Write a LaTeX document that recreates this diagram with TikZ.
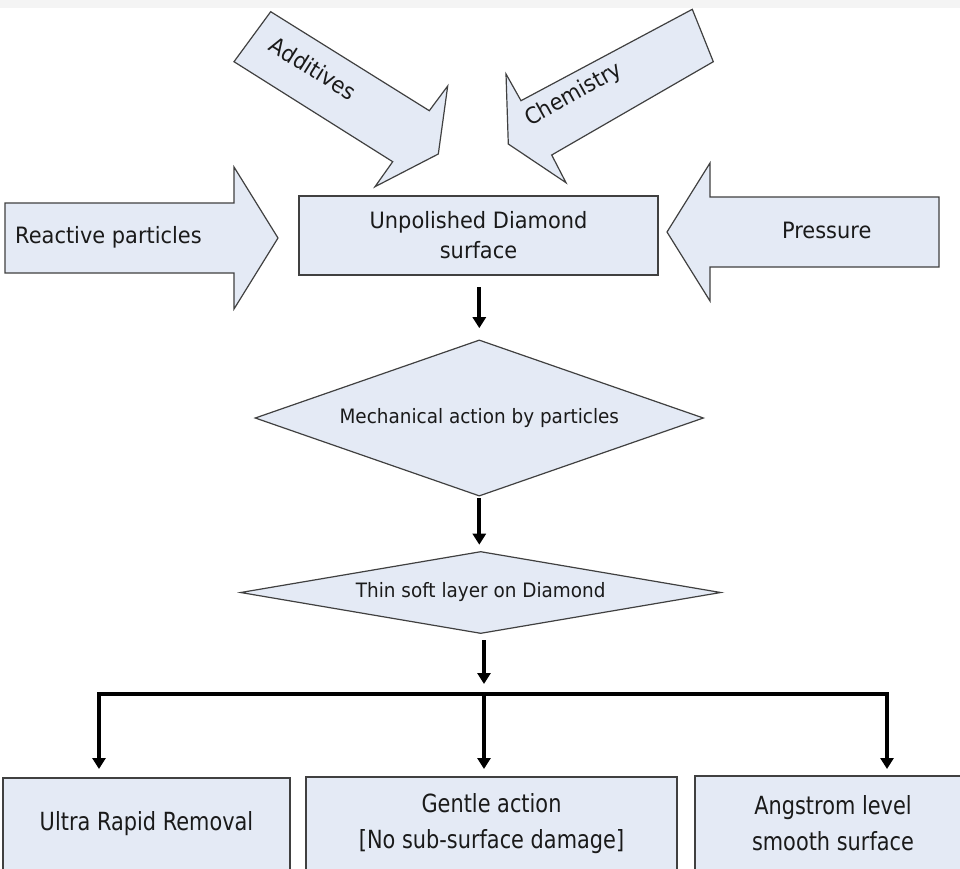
\documentclass[tikz,border=0pt]{standalone}
\usepackage{fontspec}
\setmainfont{DejaVu Sans}[FakeStretch=0.93]
\newfontfamily\narrowf{DejaVu Sans}[FakeStretch=0.835]
\usetikzlibrary{arrows.meta,shapes.geometric}
\definecolor{boxfill}{HTML}{E4EAF5}
\definecolor{boxline}{HTML}{404040}
\definecolor{band}{HTML}{F4F4F4}
\definecolor{ink}{HTML}{1A1A1A}
\begin{document}
\begin{tikzpicture}[x=1pt,y=1pt,
  shapebox/.style={draw=boxline, fill=boxfill, line width=1.2pt},
  rectbox/.style={shapebox, rectangle, inner sep=0pt, outer sep=0pt, align=center, text=ink},
  diabox/.style={shapebox, diamond, inner sep=0pt, outer sep=0pt, text=ink, font=\fontsize{19.8}{24}\selectfont},
  blockarrow/.style={shapebox, line join=miter},
  lbl/.style={text=ink, inner sep=0pt, font=\fontsize{22.5}{30}\selectfont},
  bottomfont/.style={font=\narrowf\fontsize{25}{36}\selectfont},
  conn/.style={line width=4pt, -{Triangle[width=13pt,length=11pt]}},
  bus/.style={line width=4pt, line cap=rect}]
\useasboundingbox (0,0) rectangle (960,-868);
\clip (0,0) rectangle (960,-868);
\fill[white] (0,0) rectangle (960,-868);
\fill[band] (0,0) rectangle (960,-8);

% block arrows
\draw[blockarrow] (5,-203) -- (234,-203) -- (234,-167) -- (278,-238) -- (234,-309) -- (234,-273) -- (5,-273) -- cycle;
\draw[blockarrow] (939,-197) -- (710,-197) -- (710,-163) -- (667,-232) -- (710,-301) -- (710,-267) -- (939,-267) -- cycle;
\draw[blockarrow] (270.7,-11.7) -- (429.3,-110.7) -- (447.7,-86) -- (438.3,-154) -- (375,-186.7) -- (392.7,-161.7) -- (234,-61.7) -- cycle;
\draw[blockarrow] (692.3,-9.3) -- (521,-100.7) -- (506,-74) -- (508.3,-144) -- (566,-182.7) -- (551.7,-155) -- (713.3,-61.7) -- cycle;

\node[lbl, anchor=base west] (reac) at (15,-243) {Reactive particles};
\node[lbl, anchor=base] (pres) at (826.7,-238) {Pressure};
\node[lbl, rotate=-32] (addi) at (313.3,-68.3) {Additives};
\node[lbl, rotate=29] (chem) at (574,-95) {Chemistry};

% main flow
\node[rectbox, minimum width=359pt, minimum height=79pt, font=\fontsize{22.5}{30}\selectfont] (main) at (478.5,-235.5) {Unpolished Diamond\\surface};
\node[diabox, aspect=2.877, minimum width=448pt, minimum height=155.7pt] (mech) at (479.3,-418) {Mechanical action by particles};
\node[diabox, aspect=5.88, minimum width=480pt, minimum height=81.6pt] (thin) at (480.7,-592.5) {Thin soft layer on Diamond};

\node[rectbox, bottomfont, minimum width=287pt, minimum height=92pt, anchor=north west] (ultra) at (3,-778) {Ultra Rapid Removal};
\node[rectbox, bottomfont, minimum width=371pt, minimum height=93pt, anchor=north west] (gentle) at (306,-777) {Gentle action\\{[No sub-surface damage]}};
\node[rectbox, bottomfont, minimum width=276pt, minimum height=94pt, anchor=north west] (angs) at (695,-776) {Angstrom level\\smooth surface};

\coordinate (bl) at (99,-694);
\coordinate (bm) at (484,-694);
\coordinate (br) at (887,-694);

\draw[conn, shorten <=12pt, shorten >=12pt] (main.south -| mech.north) -- (mech.north);
\draw[conn, shorten <=2.5pt, shorten >=7pt] (mech.south) -- (mech.south |- thin.north);
\draw[conn, shorten <=7pt, shorten >=10pt] (thin.south -| bm) -- (bm);

\draw[bus] (bl) -- (br);
\draw[conn, shorten >=9pt] (bl) -- (bl |- ultra.north);
\draw[conn, shorten >=8pt] (bm) -- (bm |- gentle.north);
\draw[conn, shorten >=7pt] (br) -- (br |- angs.north);
\end{tikzpicture}
\end{document}
